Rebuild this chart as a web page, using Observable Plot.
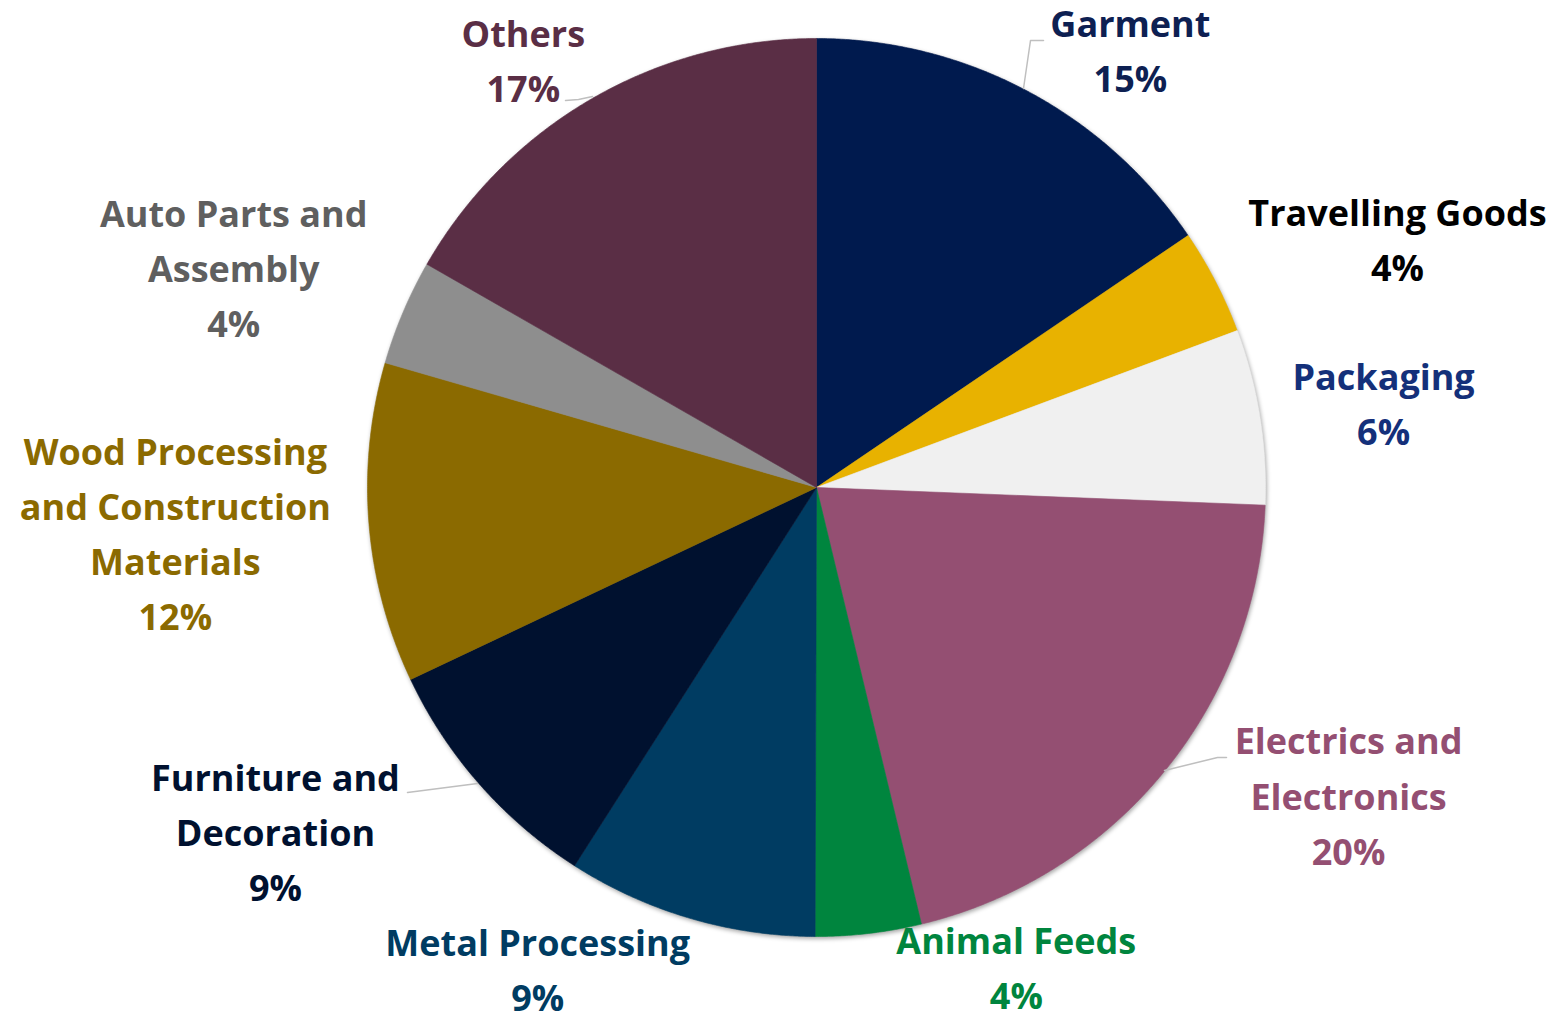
<!DOCTYPE html>
<html>
<head>
<meta charset="utf-8">
<script src="https://cdn.jsdelivr.net/npm/d3@7"></script>
<script src="https://cdn.jsdelivr.net/npm/@observablehq/plot@0.6"></script>
<style>
  html, body { margin: 0; padding: 0; background: #ffffff; }
  #chart svg { display: block; }
  #chart g[aria-label="line"]:first-of-type { filter: drop-shadow(1px 2px 2px rgba(0,0,0,0.35)); }
</style>
</head>
<body>
<div id="chart"></div>
<script>
// ---- data ----
const categories = [
  "Garment", "Travelling Goods", "Packaging", "Electrics and Electronics",
  "Animal Feeds", "Metal Processing", "Furniture and Decoration",
  "Wood Processing and Construction Materials", "Auto Parts and Assembly", "Others"
];
const shares = [15.5, 3.8, 6.3, 20.6, 3.8, 9.0, 8.9, 11.5, 3.8, 16.7];
const shareLabels = ["15%", "4%", "6%", "20%", "4%", "9%", "9%", "12%", "4%", "17%"];
const labelLines = [
  ["Garment"], ["Travelling Goods"], ["Packaging"], ["Electrics and", "Electronics"],
  ["Animal Feeds"], ["Metal Processing"], ["Furniture and", "Decoration"],
  ["Wood Processing", "and Construction", "Materials"], ["Auto Parts and", "Assembly"], ["Others"]
];

// ---- styles / layout ----
const sliceColors = ["#001A4E", "#E8B200", "#F0F0F0", "#944F72", "#00853E", "#003C62", "#00112F", "#8B6A00", "#8E8E8E", "#5A2E45"];
const textColors  = ["#0D2052", "#000000", "#14307A", "#944F72", "#00853E", "#003C62", "#00112F", "#8B6A00", "#5F5F5F", "#5A2E45"];
// label anchor points, in pie-radius units relative to the centre (y up)
const labelPos = [[0.699, 0.982], [1.294, 0.560], [1.263, 0.195], [1.185, -0.678], [0.445, -1.061],
                  [-0.621, -1.065], [-1.205, -0.759], [-1.428, -0.094], [-1.298, 0.496], [-0.653, 0.960]];
// leader lines, in pie-radius units (polyline per category)
const R = 449, CX = 816, CY = 487, W = 1558, H = 1017;
const px = (x, y) => [(x - CX) / R, (CY - y) / R];
const leaders = [
  {cat: "Garment", pts: [px(1023, 88), px(1030, 40), px(1043, 40)]},
  {cat: "Others", pts: [px(565, 100), px(578, 99), px(592, 96)]},
  {cat: "Electrics and Electronics", pts: [px(1164, 770), px(1217, 757), px(1226, 757)]},
  {cat: "Furniture and Decoration", pts: [px(407, 792), px(477, 783)]}
];

// ---- geometry through d3.pie ----
const pie = d3.pie().sort(null).value(d => d.value);
const arcs = pie(categories.map((c, i) => ({cat: c, value: shares[i]})));
const slicePts = [];
arcs.forEach((a, i) => {
  const n = Math.max(8, Math.ceil((a.endAngle - a.startAngle) / 0.005));
  slicePts.push({cat: a.data.cat, x: 0, y: 0});
  for (let k = 0; k <= n; k++) {
    const t = a.startAngle + (a.endAngle - a.startAngle) * k / n;
    slicePts.push({cat: a.data.cat, x: Math.sin(t), y: Math.cos(t)});
  }
  slicePts.push({cat: a.data.cat, x: 0, y: 0});
});
const labels = categories.map((c, i) => ({
  cat: c, x: labelPos[i][0], y: labelPos[i][1],
  text: labelLines[i].concat([shareLabels[i]]).join("\n")
}));
const leaderPts = leaders.flatMap(l => l.pts.map(p => ({cat: l.cat, x: p[0], y: p[1]})));

const colorOf = Object.fromEntries(categories.map((c, i) => [c, sliceColors[i]]));
const textOf = Object.fromEntries(categories.map((c, i) => [c, textColors[i]]));

const chart = Plot.plot({
  width: W, height: H,
  margin: 0,
  x: {domain: [-CX / R, (W - CX) / R], axis: null},
  y: {domain: [-(H - CY) / R, CY / R], axis: null},
  style: {background: "#ffffff"},
  marks: [
    Plot.line(slicePts, {x: "x", y: "y", z: "cat", fill: d => colorOf[d.cat], stroke: d => colorOf[d.cat], strokeWidth: 0.6, curve: "linear"}),
    Plot.line(leaderPts, {x: "x", y: "y", z: "cat", stroke: "#BFBFBF", strokeWidth: 1.5}),
    Plot.text(labels, {x: "x", y: "y", text: "text", fill: d => textOf[d.cat],
      fontSize: 36, fontWeight: "bold", fontFamily: "'Open Sans', Lato, sans-serif",
      lineHeight: 1.53, textAnchor: "middle", lineAnchor: "middle"})
  ]
});
document.getElementById("chart").appendChild(chart);
</script>
</body>
</html>
